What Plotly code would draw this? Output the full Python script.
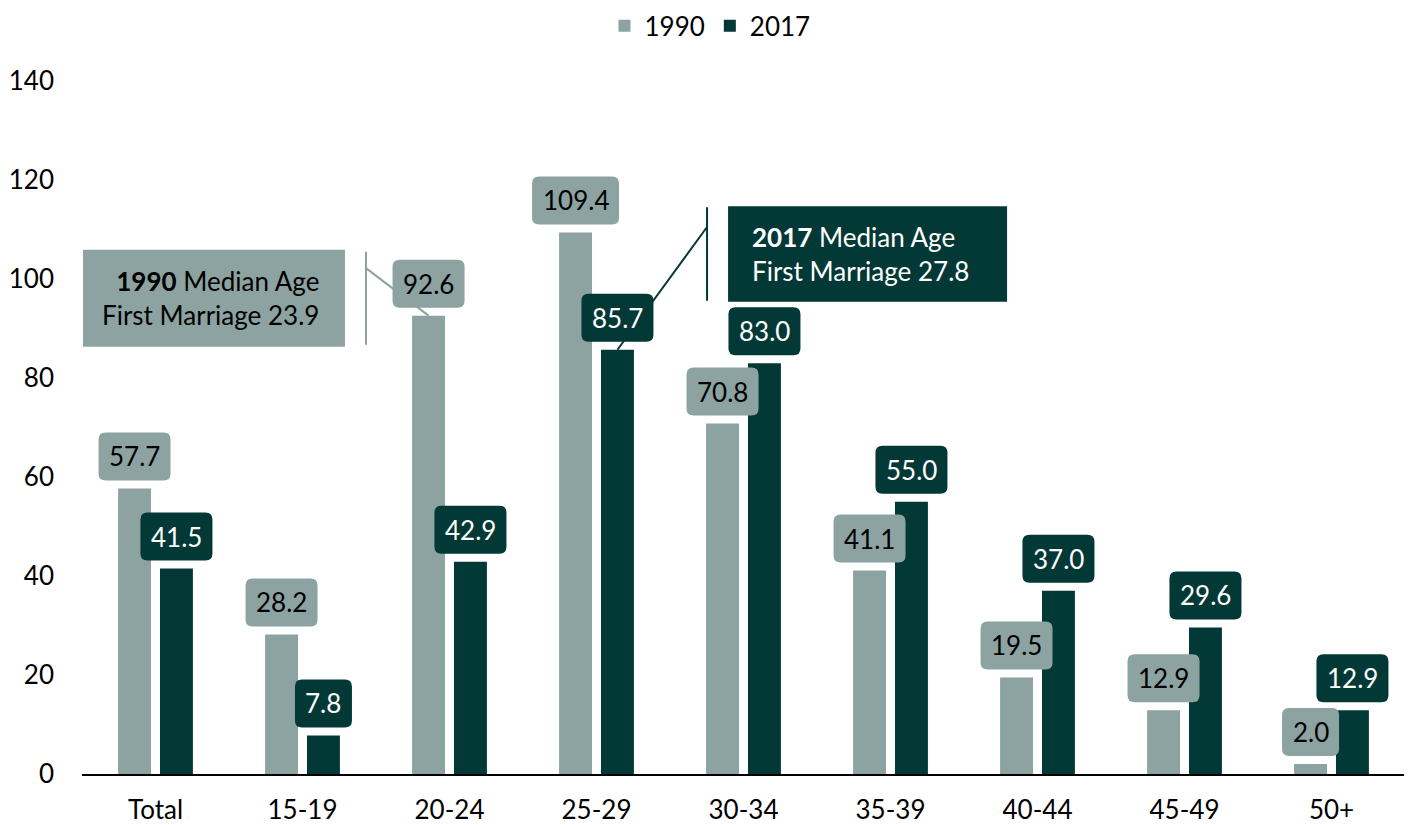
import plotly.graph_objects as go

categories = ["Total", "15-19", "20-24", "25-29", "30-34", "35-39", "40-44", "45-49", "50+"]
rate_1990 = [57.7, 28.2, 92.6, 109.4, 70.8, 41.1, 19.5, 12.9, 2.0]
rate_2017 = [41.5, 7.8, 42.9, 85.7, 83.0, 55.0, 37.0, 29.6, 12.9]
series_names = ["1990", "2017"]
y_ticks = [0, 20, 40, 60, 80, 100, 120, 140]

GREY = "#8CA3A1"
DARK = "#023836"
FONT = "Lato"
FS = 26
BARGAP = 0.43
BARGROUPGAP = 0.214

fig = go.Figure()
fig.add_bar(x=categories, y=rate_1990, name=series_names[0], marker_color=GREY, marker_line_width=0)
fig.add_bar(x=categories, y=rate_2017, name=series_names[1], marker_color=DARK, marker_line_width=0)

slot = (1 - BARGAP) / 2
offsets = [-slot / 2, slot / 2]


def rrect(w, h, y0, r):
    x0, x1, y1 = -w / 2, w / 2, y0 + h
    return (f"M{x0+r},{y0} L{x1-r},{y0} Q{x1},{y0} {x1},{y0+r} L{x1},{y1-r} "
            f"Q{x1},{y1} {x1-r},{y1} L{x0+r},{y1} Q{x0},{y1} {x0},{y1-r} "
            f"L{x0},{y0+r} Q{x0},{y0} {x0+r},{y0} Z")


shapes = []
annotations = []

# callout leader lines (drawn first, under the labels)
line_grey = dict(color=GREY, width=2)
line_dark = dict(color=DARK, width=2)
shapes.append(dict(type="line", xref="x", yref="y", x0=1.432, x1=1.432, y0=105.5, y1=86.7, line=line_grey))
shapes.append(dict(type="line", xref="x", yref="y", x0=1.432, x1=2 + offsets[0], y0=102.2, y1=rate_1990[2], line=line_grey))
shapes.append(dict(type="line", xref="x", yref="y", x0=3.752, x1=3.752, y0=114.5, y1=95.6, line=line_dark))
shapes.append(dict(type="line", xref="x", yref="y", x0=3.752, x1=3 + offsets[1], y0=110.5, y1=rate_2017[3], line=line_dark))

# callout boxes
shapes.append(dict(type="rect", xref="x", yref="y", x0=-0.493, x1=1.289, y0=86.3, y1=105.9,
                   fillcolor=GREY, line_width=0))
shapes.append(dict(type="rect", xref="x", yref="y", x0=3.895, x1=5.793, y0=95.4, y1=114.7,
                   fillcolor=DARK, line_width=0))
annotations.append(dict(xref="x", yref="y", x=0.398, y=96.1, showarrow=False, align="right",
                        xanchor="center", yanchor="middle", xshift=-4,
                        text="<b>1990</b> Median Age<br>First Marriage 23.9",
                        font=dict(family=FONT, size=FS, color="#000000")))
annotations.append(dict(xref="x", yref="y", x=3.895, y=105.05, showarrow=False, align="left",
                        xanchor="left", yanchor="middle", xshift=22,
                        text="<b>2017</b> Median Age<br>First Marriage 27.8",
                        font=dict(family=FONT, size=FS, color="#FFFFFF")))

# value labels in rounded boxes
for s, (vals, fill, tcol) in enumerate([(rate_1990, GREY, "#000000"), (rate_2017, DARK, "#FFFFFF")]):
    for i, v in enumerate(vals):
        txt = f"{v:.1f}"
        w = 20 + 15 * sum(c.isdigit() for c in txt) + 7 * txt.count(".")
        shapes.append(dict(type="path", xref="x", yref="y", xsizemode="pixel", ysizemode="pixel",
                           xanchor=i + offsets[s], yanchor=v, path=rrect(w, 48, 8, 7),
                           fillcolor=fill, line_width=0, layer="above"))
        annotations.append(dict(xref="x", yref="y", x=i + offsets[s], y=v, yshift=32, showarrow=False,
                                xanchor="center", yanchor="middle", text=txt,
                                font=dict(family=FONT, size=FS, color=tcol)))

fig.update_layout(
    width=1404, height=817,
    margin=dict(l=74, r=7, t=73, b=51, autoexpand=False),
    paper_bgcolor="white", plot_bgcolor="white",
    barmode="group", bargap=BARGAP, bargroupgap=BARGROUPGAP,
    font=dict(family=FONT, size=FS, color="#000000"),
    legend=dict(orientation="h", xref="container", x=0.5, xanchor="center", yref="container", y=0.978,
                yanchor="middle", font=dict(family=FONT, size=FS, color="#000000"), itemwidth=30),
    shapes=shapes, annotations=annotations,
    xaxis=dict(showline=True, linecolor="#000000", linewidth=1.5, ticks="", showgrid=False, automargin=False,
               tickfont=dict(family=FONT, size=FS, color="#000000"), ticklabelstandoff=12),
    yaxis=dict(range=[0, 140], tickvals=y_ticks, showgrid=False, zeroline=False, showline=False, automargin=False,
               tickfont=dict(family=FONT, size=FS, color="#000000"), ticklabelstandoff=27),
    showlegend=True,
)

fig.write_html("out.html")
